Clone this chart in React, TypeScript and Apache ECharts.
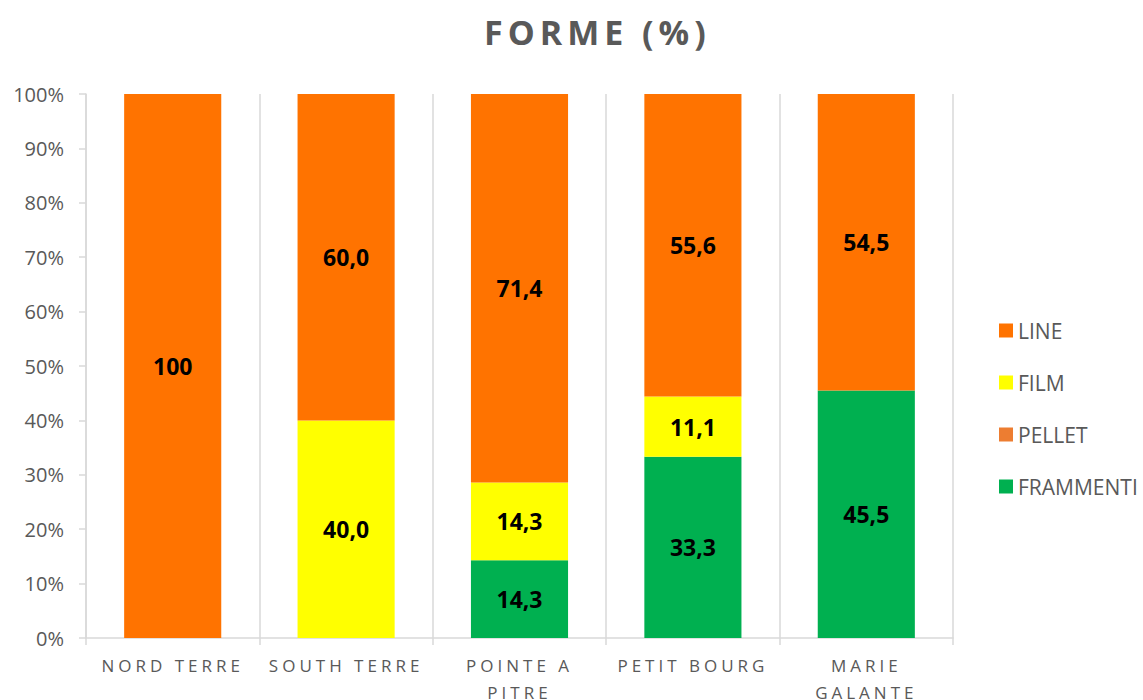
import React, { useEffect, useRef } from "react";
import * as echarts from "echarts";

const categories = ["NORD TERRE", "SOUTH TERRE", "POINTE A PITRE", "PETIT BOURG", "MARIE GALANTE"];
const frammenti = [0, 0, 14.3, 33.3, 45.5];
const pellet = [0, 0, 0, 0, 0];
const film = [0, 40.0, 14.3, 11.1, 0];
const line = [100, 60.0, 71.4, 55.6, 54.5];
const yTicks = { min: 0, max: 100, interval: 10 };

const TEXT = "#595959";
const GRID = "#d9d9d9";
const FONT = "'Open Sans', sans-serif";

const fmt = (v: number) => (v === 100 ? "100" : v.toFixed(1).replace(".", ","));

const mk = (name: string, data: number[], color: string) => ({
  name,
  type: "bar",
  stack: "total",
  barWidth: "56%",
  data: data.map((v) => (v > 0 ? v : null)),
  itemStyle: { color },
  label: {
    show: true,
    position: "inside",
    color: "#000",
    fontWeight: "bold",
    fontSize: 23,
    fontFamily: FONT,
    formatter: (p: any) => (p.value > 0 ? fmt(p.value) : ""),
  },
});

export default function App() {
  const ref = useRef<HTMLDivElement>(null);
  useEffect(() => {
    if (!ref.current) return;
    const chart = echarts.init(ref.current, undefined, { renderer: "svg" });
    chart.setOption({
      animation: false,
      backgroundColor: "#fff",
      title: {
        text: "FORME (%)",
        left: 484,
        top: 15,
        padding: 0,
        textStyle: { fontSize: 34, fontWeight: "bold", color: TEXT, fontFamily: FONT },
      },
      legend: {
        orient: "vertical",
        left: 999,
        top: 320,
        padding: 0,
        itemWidth: 14,
        itemHeight: 14,
        itemGap: 31,
        icon: "rect",
        data: ["LINE", "FILM", "PELLET", "FRAMMENTI"],
        textStyle: { fontSize: 21, color: TEXT, fontFamily: FONT },
      },
      grid: { left: 86, right: 190, top: 94, bottom: 62, containLabel: false, outerBoundsMode: "none" },
      xAxis: {
        type: "category",
        data: categories,
        axisLine: { lineStyle: { color: GRID, width: 1.5 } },
        axisTick: { show: true, length: 7, lineStyle: { color: GRID, width: 1.5 } },
        splitLine: { show: true, lineStyle: { color: GRID, width: 1.5 } },
        axisLabel: {
          color: TEXT,
          fontSize: 17,
          fontFamily: FONT,
          margin: 14,
          lineHeight: 27,
          interval: 0,
          formatter: (v: string) => (v.length > 12 ? v.replace(/ (\S+)$/, "\n$1") : v),
        },
      },
      yAxis: {
        type: "value",
        min: yTicks.min,
        max: yTicks.max,
        interval: yTicks.interval,
        axisLine: { show: true, lineStyle: { color: GRID, width: 1.5 } },
        axisTick: { show: true, length: 7, lineStyle: { color: GRID, width: 1.5 } },
        splitLine: { show: false },
        axisLabel: { color: TEXT, fontSize: 20, fontFamily: FONT, margin: 22, formatter: "{value}%" },
      },
      series: [
        mk("FRAMMENTI", frammenti, "#00B050"),
        mk("PELLET", pellet, "#ED7D31"),
        mk("FILM", film, "#FFFF00"),
        mk("LINE", line, "#FF7300"),
      ],
    });
    return () => chart.dispose();
  }, []);
  return (
    <>
      <style>{`text[style*="34px"]{letter-spacing:5px} text[style*="17px"]{letter-spacing:4px}`}</style>
      <div ref={ref} style={{ position: "absolute", left: 0, top: 0, width: 1143, height: 700 }} />
    </>
  );
}
